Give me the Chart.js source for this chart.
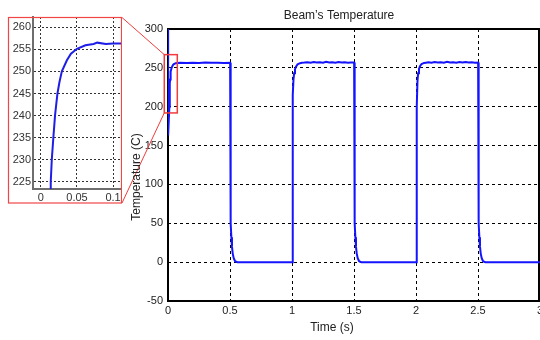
<!DOCTYPE html>
<html>
<head>
<meta charset="utf-8">
<script src="https://cdn.jsdelivr.net/npm/chart.js@4"></script>
<style>
  body { margin: 0; background: #fff; }
  #wrap { position: relative; width: 540px; height: 340px; overflow: hidden; }
  #main { position: absolute; left: 0; top: 0; }
  #inset { position: absolute; left: 0; top: 0; }
</style>
</head>
<body>
<div id="wrap">
  <canvas id="main" width="540" height="340"></canvas>
  <canvas id="inset" width="122" height="205"></canvas>
</div>
<script>
// temperature of the beam
const timeS = [
  0, 0.001, 0.011, 0.0136, 0.015, 0.0173, 0.0196, 0.0229, 0.029, 0.036, 0.0416, 0.05, 0.062, 0.075,
  0.1, 0.15, 0.2, 0.25, 0.3, 0.35, 0.4, 0.45, 0.501,
  0.503, 0.505, 0.508, 0.511, 0.516, 0.522, 0.53, 0.54, 0.55, 0.56, 0.7, 0.85, 1.004,
  1.006, 1.012, 1.017, 1.024, 1.032, 1.045, 1.065, 1.08,
  1.1, 1.125, 1.15, 1.175, 1.2, 1.225, 1.25, 1.275, 1.3, 1.325, 1.35, 1.375, 1.4, 1.425, 1.45, 1.475, 1.501,
  1.503, 1.505, 1.508, 1.511, 1.516, 1.522, 1.53, 1.54, 1.55, 1.56, 1.7, 1.85, 2.004,
  2.006, 2.012, 2.017, 2.024, 2.032, 2.045, 2.065, 2.08,
  2.1, 2.125, 2.15, 2.175, 2.2, 2.225, 2.25, 2.275, 2.3, 2.325, 2.35, 2.375, 2.4, 2.425, 2.45, 2.475, 2.501,
  2.503, 2.505, 2.508, 2.511, 2.516, 2.522, 2.53, 2.54, 2.55, 2.56, 2.7, 2.85, 3.0
];
const tempC = [
  300, 163, 200, 225, 230, 235, 240, 245, 250, 252.5, 254, 255.1, 255.9, 256.2,
  256.5, 256.3, 256.7, 256.4, 256.8, 256.5, 256.6, 256.4, 256.5,
  150, 80, 50, 32, 20, 11, 5, 1.5, 0.4, 0, 0, 0, 0,
  215, 235, 243, 248, 251.5, 254.5, 256, 256.5,
  256.8, 257.3, 256.5, 257.6, 256.9, 257.2, 256.6, 257.8, 256.9, 257.1, 256.7, 257.5, 256.8, 257.3, 256.6, 257.0, 256.9,
  150, 80, 50, 32, 20, 11, 5, 1.5, 0.4, 0, 0, 0, 0,
  200, 233, 243, 248.5, 252, 255, 256.4, 256.7,
  257.1, 256.6, 257.5, 256.9, 257.3, 256.7, 257.7, 256.8, 257.2, 256.6, 257.4, 256.9, 257.6, 256.8, 257.2, 256.7, 256.9,
  150, 80, 50, 32, 20, 11, 5, 1.5, 0.4, 0, 0, 0, 0
];

// zoomed view of the first rise
const insetTime = [0.0136, 0.0136, 0.015, 0.0173, 0.0196, 0.0229, 0.0257, 0.029, 0.036, 0.0416, 0.05, 0.0617, 0.073, 0.078, 0.09, 0.1, 0.115];
const insetTemp = [215, 225, 229.9, 235.2, 240.1, 245, 247.6, 250, 252.5, 254, 255.1, 255.9, 256.2, 256.5, 256.2, 256.3, 256.3];

const mainXTicks = [0, 0.5, 1, 1.5, 2, 2.5, 3];
const mainYTicks = [-50, 0, 50, 100, 150, 200, 250, 300];
const insetXTicks = [0, 0.05, 0.1];
const insetYTicks = [225, 230, 235, 240, 245, 250, 255, 260];

// zoom box on the main plot (data units)
const zoomBoxX = [-0.03, 0.075];
const zoomBoxY = [192, 267];

Chart.defaults.font.family = "'Liberation Sans', Arial, sans-serif";
Chart.defaults.font.size = 11;
Chart.defaults.color = '#222';

const frame = {
  id: 'frame',
  beforeDatasetsDraw(chart) {
    const a = chart.chartArea
    const ctx = chart.ctx
    ctx.save()
    ctx.strokeStyle = '#000'
    ctx.lineWidth = 2
    ctx.strokeRect(a.left, a.top, a.right - a.left - 1, a.bottom - a.top)
    ctx.restore()
  }
}

const overlay = {
  id: 'overlay',
  afterDraw(chart) {
    const ctx = chart.ctx
    const xs = chart.scales.x, ys = chart.scales.y
    const l = xs.getPixelForValue(zoomBoxX[0]), r = xs.getPixelForValue(zoomBoxX[1])
    const t = ys.getPixelForValue(zoomBoxY[1]), b = ys.getPixelForValue(zoomBoxY[0])
    ctx.save()
    ctx.strokeStyle = '#f03c3c'
    ctx.lineWidth = 1.5
    ctx.strokeRect(l, t, r - l, b - t)
    ctx.lineWidth = 1
    ctx.beginPath()
    ctx.moveTo(122, 17.5); ctx.lineTo(l, t)
    ctx.moveTo(122, 203); ctx.lineTo(l, b)
    ctx.stroke()

    ctx.fillStyle = '#222'
    ctx.font = "12px 'Liberation Sans', Arial, sans-serif"
    ctx.textAlign = 'center'
    ctx.textBaseline = 'middle'
    ctx.fillText('Beam\u2019s Temperature', 339, 16)
    ctx.fillText('Time (s)', 332, 328)
    ctx.translate(137, 177)
    ctx.rotate(-Math.PI / 2)
    ctx.fillText('Temperature (C)', 0, 0)
    ctx.restore()
  }
}

new Chart(document.getElementById('main'), {
  type: 'line',
  data: {
    datasets: [{
      data: timeS.map((t, i) => ({ x: t, y: tempC[i] })),
      borderColor: '#1414ff',
      borderWidth: 2,
      pointRadius: 0,
      tension: 0
    }]
  },
  options: {
    responsive: false,
    animation: false,
    devicePixelRatio: 1,
    layout: { autoPadding: false, padding: { top: 29, left: 0, right: 0, bottom: 0 } },
    plugins: { legend: { display: false }, tooltip: { enabled: false } },
    scales: {
      x: {
        type: 'linear', min: 0, max: 3,
        afterBuildTicks: s => { s.ticks = mainXTicks.map(v => ({ value: v })) },
        afterFit: s => { s.height = 39; s.paddingLeft = 0; s.paddingRight = 0 },
        ticks: { padding: 3, maxRotation: 0, font: { size: 11 }, callback: v => String(v) },
        grid: { color: '#000', lineWidth: 1, drawTicks: false },
        border: { display: false, dash: [3, 3] }
      },
      y: {
        min: -50, max: 300,
        afterBuildTicks: s => { s.ticks = mainYTicks.map(v => ({ value: v })) },
        afterFit: s => { s.width = 168 },
        ticks: { padding: 5, font: { size: 11 }, callback: v => String(v) },
        grid: { color: '#000', lineWidth: 1, drawTicks: false },
        border: { display: false, dash: [3, 3] }
      }
    }
  },
  plugins: [frame, overlay]
})

const insetFrame = {
  id: 'insetFrame',
  afterDraw(chart) {
    const ctx = chart.ctx
    ctx.save()
    ctx.strokeStyle = '#f04646'
    ctx.lineWidth = 1.2
    ctx.strokeRect(8.5, 17.5, 113, 185.5)
    ctx.restore()
  }
}

new Chart(document.getElementById('inset'), {
  type: 'line',
  data: {
    datasets: [{
      data: insetTime.map((t, i) => ({ x: t, y: insetTemp[i] })),
      borderColor: '#1e1ee6',
      borderWidth: 2,
      pointRadius: 0,
      tension: 0
    }]
  },
  options: {
    responsive: false,
    animation: false,
    devicePixelRatio: 1,
    layout: { autoPadding: false, padding: { top: 17, left: 0, right: 0, bottom: 0 } },
    plugins: { legend: { display: false }, tooltip: { enabled: false } },
    scales: {
      x: {
        type: 'linear', min: -0.011, max: 0.1124,
        afterBuildTicks: s => { s.ticks = insetXTicks.map(v => ({ value: v })) },
        afterFit: s => { s.height = 16; s.paddingLeft = 0; s.paddingRight = 0 },
        ticks: { padding: 2, maxRotation: 0, color: '#333', font: { size: 11 }, callback: v => String(v) },
        grid: { color: '#333', lineWidth: 1, drawTicks: false },
        border: { display: true, color: '#6e6e6e', width: 2, dash: [2, 2] }
      },
      y: {
        min: 223.4, max: 262.3,
        afterBuildTicks: s => { s.ticks = insetYTicks.map(v => ({ value: v })) },
        afterFit: s => { s.width = 33 },
        ticks: { padding: 2, color: '#333', font: { size: 11 }, callback: v => String(v) },
        grid: { color: '#333', lineWidth: 1, drawTicks: false },
        border: { display: true, color: '#6e6e6e', width: 2, dash: [2, 2] }
      }
    }
  },
  plugins: [insetFrame]
})
</script>
</body>
</html>
